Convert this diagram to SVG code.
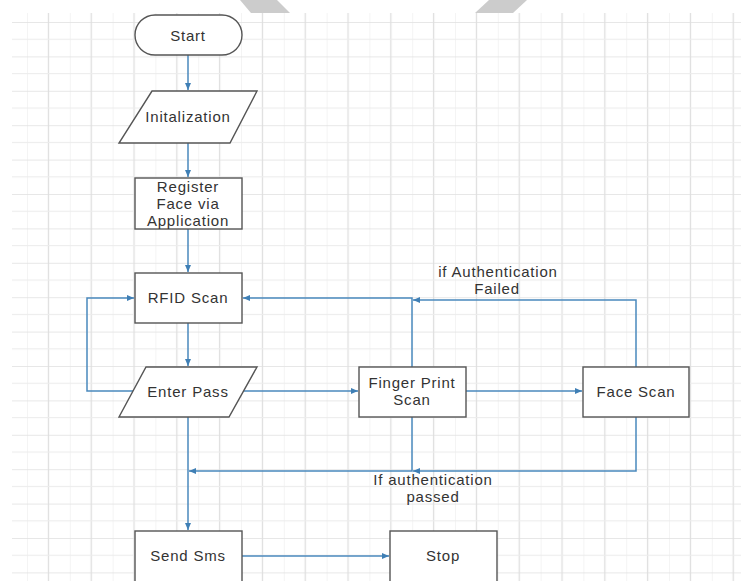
<svg xmlns="http://www.w3.org/2000/svg" width="741" height="581" viewBox="0 0 741 581">
  <defs>
    <pattern id="grid" patternUnits="userSpaceOnUse" x="27" y="22" width="42.8" height="34.4">
      <rect x="-0.5" y="0" width="1.1" height="34.4" fill="#ececec"/>
      <rect x="20.8" y="0" width="1.3" height="34.4" fill="#dedede"/>
      <rect x="0" y="-0.6" width="42.8" height="1.3" fill="#dedede"/>
      <rect x="0" y="16.7" width="42.8" height="1.1" fill="#ececec"/>
    </pattern>
    <marker id="arr" markerUnits="userSpaceOnUse" markerWidth="8" markerHeight="8" refX="7" refY="4" orient="auto">
      <path d="M0,1 L7,4 L0,7 Z" fill="#3f7fb5"/>
    </marker>
    <style>
      .node { fill: #ffffff; stroke: #555555; stroke-width: 1.4; }
      .conn { fill: none; stroke: #4a89bd; stroke-width: 1.5; }
      text { font-family: "Liberation Sans", Arial, sans-serif; font-size: 15px; fill: #333333; text-anchor: middle; letter-spacing: 0.8px; }
    </style>
  </defs>

  <rect x="0" y="0" width="741" height="581" fill="#ffffff"/>
  <rect x="12" y="13" width="729" height="568" fill="url(#grid)"/>
  <polygon points="240,0 277,0 290,13 251,13" fill="#cccccc"/>
  <polygon points="489,0 527,0 513,13 475,13" fill="#cccccc"/>

  <g id="connectors">
    <path class="conn" d="M188,55 V90" marker-end="url(#arr)"/>
    <path class="conn" d="M188,143 V177" marker-end="url(#arr)"/>
    <path class="conn" d="M188,229 V272" marker-end="url(#arr)"/>
    <path class="conn" d="M188,323 V366" marker-end="url(#arr)"/>
    <path class="conn" d="M188,417 V530" marker-end="url(#arr)"/>
    <path class="conn" d="M133,391 H87 V298 H134" marker-end="url(#arr)"/>
    <path class="conn" d="M242,391 H358" marker-end="url(#arr)"/>
    <path class="conn" d="M466,391 H582" marker-end="url(#arr)"/>
    <path class="conn" d="M412,367 V298 H243" marker-end="url(#arr)"/>
    <path class="conn" d="M636,367 V300 H413" marker-end="url(#arr)"/>
    <path class="conn" d="M636,417 V471 H413" marker-end="url(#arr)"/>
    <path class="conn" d="M412,417 V471 H189" marker-end="url(#arr)"/>
    <path class="conn" d="M242,556 H389" marker-end="url(#arr)"/>
  </g>

  <g id="start">
    <rect class="node" x="135" y="15" width="107" height="40" rx="20" ry="20"/>
    <text x="188" y="41">Start</text>
  </g>
  <g id="init">
    <polygon class="node" points="152,91 257,91 230,143 119,143"/>
    <text x="188" y="122">Initalization</text>
  </g>
  <g id="register">
    <rect class="node" x="135" y="178" width="107" height="51"/>
    <text x="188" y="192">Register</text>
    <text x="188" y="209">Face via</text>
    <text x="188" y="226">Application</text>
  </g>
  <g id="rfid">
    <rect class="node" x="135" y="273" width="107" height="50"/>
    <text x="188" y="303">RFID Scan</text>
  </g>
  <g id="enterpass">
    <polygon class="node" points="146,367 257,367 229,417 119,417"/>
    <text x="188" y="397">Enter Pass</text>
  </g>
  <g id="finger">
    <rect class="node" x="359" y="367" width="107" height="50"/>
    <text x="412" y="388">Finger Print</text>
    <text x="412" y="405">Scan</text>
  </g>
  <g id="face">
    <rect class="node" x="583" y="367" width="106" height="50"/>
    <text x="636" y="397">Face Scan</text>
  </g>
  <g id="sendsms">
    <rect class="node" x="135" y="531" width="107" height="60"/>
    <text x="188" y="561">Send Sms</text>
  </g>
  <g id="stop">
    <rect class="node" x="390" y="531" width="107" height="60"/>
    <text x="443" y="561">Stop</text>
  </g>
  <g id="labels">
    <text x="498" y="277">if Authentication</text>
    <text x="497" y="294">Failed</text>
    <text x="433" y="485">If authentication</text>
    <text x="433" y="502">passed</text>
  </g>
</svg>
